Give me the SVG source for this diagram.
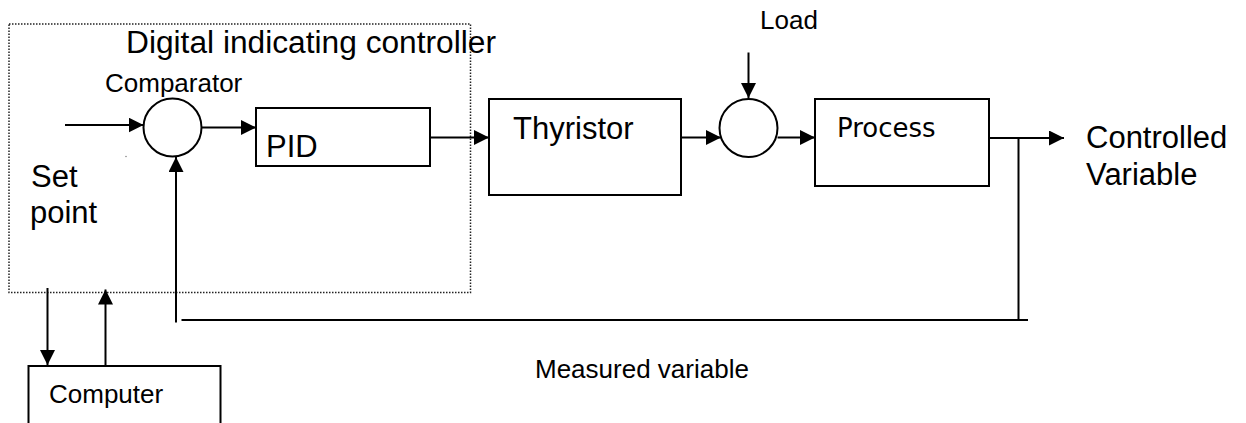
<svg xmlns="http://www.w3.org/2000/svg" width="1246" height="423" viewBox="0 0 1246 423">
<style>
.box{fill:#fff;stroke:#000;stroke-width:2}
.sum{fill:#fff;stroke:#000;stroke-width:2}
.ln{fill:none;stroke:#000;stroke-width:2}
.arr{fill:none;stroke:#000;stroke-width:2;marker-end:url(#ah)}
.t{font-family:"Liberation Sans",Arial,sans-serif;fill:#000}
.big{font-size:31px}
.sm{font-size:26px}
.dv{font-family:"DejaVu Sans",Verdana,sans-serif;font-size:26px;fill:#000}
</style>
<defs>
<marker id="ah" markerUnits="userSpaceOnUse" markerWidth="16" markerHeight="16" refX="15" refY="7.5" orient="auto">
<path d="M0,0 L15,7.5 L0,15 z" fill="#000"/>
</marker>
</defs>
<rect width="1246" height="423" fill="#fff"/>
<g id="controller">
<rect x="9" y="24" width="461.5" height="268.5" fill="none" stroke="#222" stroke-width="1.5" stroke-dasharray="1.5,1.5"/>
<text class="t big" x="126" y="53" textLength="370" lengthAdjust="spacingAndGlyphs">Digital indicating controller</text>
</g>
<g id="comparator">
<circle class="sum" cx="172.5" cy="127.5" r="29"/>
<text class="t sm" x="105" y="91.5">Comparator</text>
</g>
<g id="setpoint">
<text class="t big" x="31" y="187">Set</text>
<text class="t big" x="30" y="223">point</text>
</g>
<g id="pid">
<rect class="box" x="256" y="108" width="174" height="58"/>
<text class="t big" x="266" y="157">PID</text>
</g>
<g id="thyristor">
<rect class="box" x="489" y="99" width="192" height="96"/>
<text class="t big" x="513" y="139">Thyristor</text>
</g>
<g id="load-sum">
<circle class="sum" cx="748.5" cy="128" r="29"/>
</g>
<g id="load">
<text class="t sm" x="760" y="29">Load</text>
</g>
<g id="process">
<rect class="box" x="815" y="99" width="174" height="87"/>
<text class="dv" x="837" y="136.5">Process</text>
</g>
<g id="output">
<text class="t big" x="1086" y="148">Controlled</text>
<text class="t big" x="1086" y="185">Variable</text>
</g>
<g id="computer">
<rect class="box" x="28.5" y="366" width="192" height="70"/>
<text class="t sm" x="49" y="402.5">Computer</text>
</g>
<g id="measured">
<text class="t sm" x="535" y="377.5">Measured variable</text>
</g>
<g id="connectors">
<line class="arr" x1="65" y1="125" x2="143.5" y2="125"/>
<line class="arr" x1="201.5" y1="127.5" x2="256" y2="127.5"/>
<line class="arr" x1="430" y1="137.5" x2="489" y2="137.5"/>
<line class="arr" x1="681" y1="137.5" x2="721" y2="137.5"/>
<line class="arr" x1="748.5" y1="52.5" x2="748.5" y2="98"/>
<line class="arr" x1="777.5" y1="137.5" x2="815" y2="137.5"/>
<line class="arr" x1="989" y1="138" x2="1064" y2="138"/>
<line class="ln" x1="1018.5" y1="138" x2="1018.5" y2="320"/>
<line class="ln" x1="181.5" y1="320" x2="1028" y2="320"/>
<line class="arr" x1="176" y1="322.5" x2="176" y2="157"/>
<line class="arr" x1="47.5" y1="288" x2="47.5" y2="365"/>
<line class="arr" x1="105.5" y1="366" x2="105.5" y2="289.5"/>
</g>
<circle cx="126" cy="156.5" r="0.8" fill="#888"/>
</svg>
